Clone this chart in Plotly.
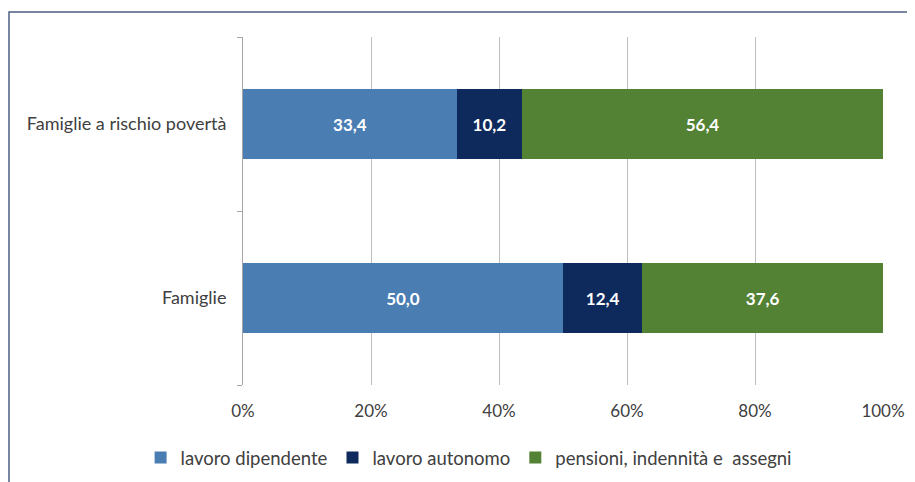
import plotly.graph_objects as go

categories = ["Famiglie", "Famiglie a rischio povertà"]
series_names = ["lavoro dipendente", "lavoro autonomo", "pensioni, indennità e  assegni"]
lavoro_dipendente = [50.0, 33.4]
lavoro_autonomo = [12.4, 10.2]
pensioni = [37.6, 56.4]
tick_vals = [0, 20, 40, 60, 80, 100]
tick_labels = ["0%", "20%", "40%", "60%", "80%", "100%"]

colors = ["#4a7eb3", "#0e2a5c", "#548235"]

# page body has an 8px margin, so offsets below are shifted by 8
fig = go.Figure()
for name, vals, col in zip(series_names, [lavoro_dipendente, lavoro_autonomo, pensioni], colors):
    fig.add_trace(go.Bar(
        y=categories,
        x=vals,
        name=name,
        orientation='h',
        marker=dict(color=col, line=dict(width=0)),
        texttemplate='%{x:.1f}',
        textposition='inside',
        insidetextanchor='middle',
        textfont=dict(color='white', size=17, family='Lato', weight='bold'),
    ))

fig.update_layout(
    barmode='stack',
    bargap=0.6,
    separators=',.',
    width=915,
    height=482,
    margin=dict(l=235, r=40, t=29, b=105),
    plot_bgcolor='white',
    paper_bgcolor='white',
    font=dict(family='Lato', size=18, color='#404040'),
    showlegend=True,
    legend=dict(orientation='h', x=-0.16, xanchor='left', y=-0.21, yanchor='middle',
                font=dict(size=18.5, color='#404040'), itemwidth=30, traceorder='normal'),
    xaxis=dict(range=[0, 100], tickvals=tick_vals, ticktext=tick_labels, showgrid=True,
               gridcolor='#bfbfbf', gridwidth=1, zeroline=False, showline=False,
               ticks='', ticklabelstandoff=14, tickfont=dict(size=17)),
    yaxis=dict(showline=True, linecolor='#a6a6a6', linewidth=1, ticks='outside',
               tickson='boundaries', ticklen=5, tickcolor='#a6a6a6', showgrid=False,
               ticklabelstandoff=12, tickfont=dict(size=18)),
    shapes=[dict(type='rect', xref='paper', yref='paper',
                 x0=(9 - 243) / 640, x1=2, y0=-2, y1=(385 - 12) / 348,
                 line=dict(color='#4d5f80', width=1.5))],
)

fig.write_html("out.html")
